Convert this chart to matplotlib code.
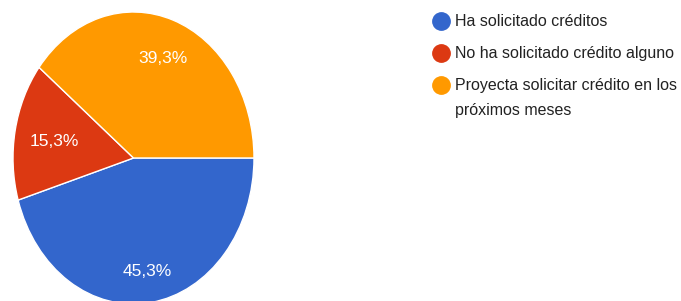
import matplotlib.pyplot as plt
from matplotlib.lines import Line2D

labels = ['Ha solicitado créditos',
          'No ha solicitado crédito alguno',
          'Proyecta solicitar crédito en los\npróximos meses']
values = [45.3, 15.3, 39.3]
colors = ['#3366cc', '#dc3912', '#ff9900']

plt.rcParams['font.family'] = ['Liberation Sans', 'DejaVu Sans']

fig = plt.figure(figsize=(6.81, 3.01), dpi=100)
W, H = 681, 301

# pie area in pixels (the original is stretched vertically)
px0, px1 = 13, 254
py0, py1 = 12, 304
ax = fig.add_axes([px0 / W, (H - py1) / H, (px1 - px0) / W, (py1 - py0) / H])

wedges, texts, autotexts = ax.pie(
    values, colors=colors, startangle=0, counterclock=False,
    autopct=lambda p: ('%.1f%%' % p).replace('.', ','),
    pctdistance=0.74,
    wedgeprops=dict(edgecolor='white', linewidth=1),
    textprops=dict(color='white', fontsize=12.5))
ax.set_aspect('auto')
ax.set_xlim(-1, 1)
ax.set_ylim(-1, 1)
# nudge labels toward where the original puts them
for t, k in zip(autotexts, [1.04, 0.9, 1.0]):
    x, y = t.get_position()
    t.set_position((x * k, y * k - 0.015))

# legend drawn in pixel coordinates
lax = fig.add_axes([0, 0, 1, 1])
lax.set_xlim(0, W)
lax.set_ylim(H, 0)
lax.axis('off')
rows = [21, 53, 85]
for lab, col, y in zip(labels, colors, rows):
    lax.add_line(Line2D([441], [y], marker='o', markersize=12.5,
                        color=col, linestyle='none'))
    lax.text(455, y - 7, lab, fontsize=11.5, color='#222222',
             va='top', ha='left', linespacing=1.85)

fig.savefig('out.png', dpi=100)
